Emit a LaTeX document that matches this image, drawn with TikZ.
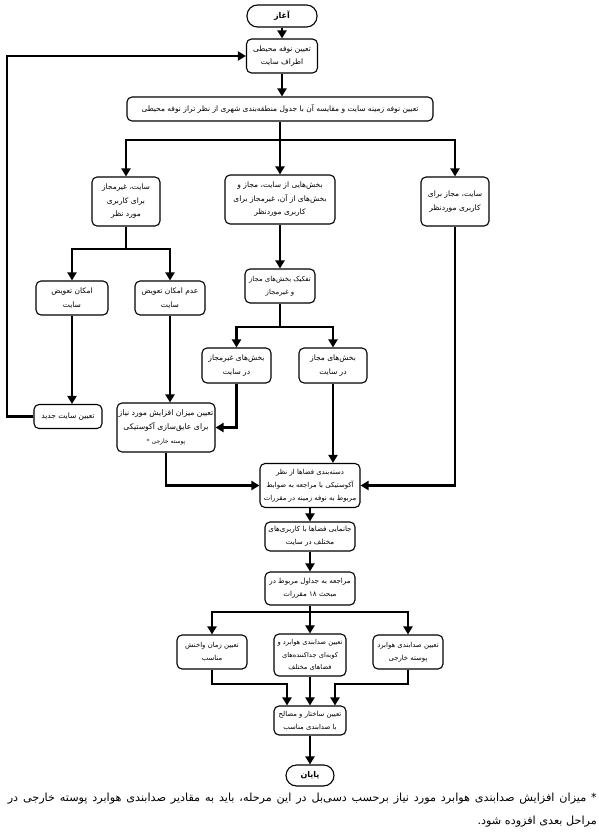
\documentclass[tikz,border=0pt]{standalone}
\usepackage{fontspec}
\usetikzlibrary{arrows.meta}
\newfontfamily\fafont[Script=Arabic]{DejaVu Sans}
\TeXXeTstate=1
\newcommand\fa[1]{\beginR#1\endR}
\begin{document}
\begin{tikzpicture}[x=1pt,y=-1pt,
  box/.style={draw, line width=1.1pt, rounded corners=5pt, fill=white, align=center,
    inner sep=1pt, font=\fafont\fontsize{7.5}{13.5}\selectfont},
  small/.style={font=\fafont\fontsize{6.9}{13}\selectfont},
  mid/.style={font=\fafont\fontsize{7.1}{13}\selectfont},
  pill/.style={box, rounded corners=10.5pt, font=\fafont\bfseries\fontsize{8}{10}\selectfont},
  conn/.style={line width=2.6pt, -{Triangle[length=8pt,width=9pt]}},
  plain/.style={line width=2.6pt},
  note/.style={anchor=east, inner sep=0pt, font=\fafont\fontsize{11.2}{13}\selectfont},
]
\useasboundingbox[fill=white] (0,0) rectangle (598,834);

% nodes
\node[pill, minimum width=70pt, minimum height=22pt] (start) at (282,16) {\fa{آغاز}};
\node[box, minimum width=71pt, minimum height=34pt] (noise) at (282,56) {\fa{تعیین نوفه محیطی}\\\fa{اطراف سایت}};
\node[box, minimum width=306pt, minimum height=24pt] (wide) at (280,109) {\fa{تعیین نوفه زمینه سایت و مقایسه آن با جدول منطقه‌بندی شهری از نظر تراز نوفه محیطی}};

\node[box, minimum width=68pt, minimum height=49pt] (L) at (126,201.5) {\fa{سایت، غیرمجاز}\\\fa{برای کاربری}\\\fa{مورد نظر}};
\node[box, minimum width=110pt, minimum height=49pt] (M) at (280,199.5) {\fa{بخش‌هایی از سایت، مجاز و}\\\fa{بخش‌های از آن، غیرمجاز برای}\\\fa{کاربری موردنظر}};
\node[box, minimum width=68pt, minimum height=49pt] (R) at (455,201.5) {\fa{سایت، مجاز برای}\\\fa{کاربری موردنظر}};

\node[box, minimum width=72pt, minimum height=34pt] (imkan) at (72,298) {\fa{امکان تعویض}\\\fa{سایت}};
\node[box, minimum width=70pt, minimum height=34pt] (adam) at (170,298) {\fa{عدم امکان تعویض}\\\fa{سایت}};
\node[box, small, minimum width=70pt, minimum height=34pt] (tafkik) at (280,286) {\fa{تفکیک بخش‌های مجاز}\\\fa{و غیرمجاز}};

\node[box, minimum width=69pt, minimum height=35pt] (ghm) at (236.5,365.5) {\fa{بخش‌های غیرمجاز}\\\fa{در سایت}};
\node[box, minimum width=68pt, minimum height=35pt] (majaz) at (333,365.5) {\fa{بخش‌های مجاز}\\\fa{در سایت}};

\node[box, minimum width=68pt, minimum height=24pt] (jadid) at (68,416.5) {\fa{تعیین سایت جدید}};
\node[box, minimum width=98pt, minimum height=49pt, font=\fafont\fontsize{7.7}{14}\selectfont] (mizan) at (166,427.5) {\fa{تعیین میزان افزایش مورد نیاز}\\\fa{برای عایق‌سازی آکوستیکی}\\\fa{\fontsize{6}{14}\selectfont پوسته خارجی *}};

\node[box, small, minimum width=100pt, minimum height=44pt] (das) at (310,485.5) {\fa{دسته‌بندی فضاها از نظر}\\\fa{آکوستیکی با مراجعه به ضوابط}\\\fa{مربوط به نوفه زمینه در مقررات}};
\node[box, mid, minimum width=90pt, minimum height=29pt] (janam) at (310,536.5) {\fa{جانمایی فضاها با کاربری‌های}\\\fa{مختلف در سایت}};
\node[box, mid, minimum width=90pt, minimum height=33pt] (moraje) at (310,588.5) {\fa{مراجعه به جداول مربوط در}\\\fa{مبحث \beginL۱۸\endL{} مقررات}};

\node[box, small, minimum width=70pt, minimum height=34pt] (zaman) at (212,652) {\fa{تعیین زمان واخنش}\\\fa{مناسب}};
\node[box, font=\fafont\fontsize{6.7}{12.5}\selectfont, minimum width=72pt, minimum height=42pt] (sedam) at (310,655) {\fa{تعیین صدابندی هوابرد و}\\\fa{کوبه‌ای جداکننده‌های}\\\fa{فضاهای مختلف}};
\node[box, small, minimum width=70pt, minimum height=34pt] (sedar) at (408,652) {\fa{تعیین صدابندی هوابرد}\\\fa{پوسته خارجی}};

\node[box, small, minimum width=72pt, minimum height=29pt] (sakht) at (310,720.5) {\fa{تعیین ساختار و مصالح}\\\fa{با صدابندی مناسب}};
\node[pill, minimum width=48pt, minimum height=21pt] (payan) at (310,775.5) {\fa{پایان}};

\node[note] (fn1) at (597,799)
  {\hbox to 589pt{\beginR* میزان افزایش صدابندی هوابرد مورد نیاز برحسب دسی‌بل در این مرحله، باید به مقادیر صدابندی هوابرد پوسته خارجی در\endR}};
\node[note] (fn2) at (597,822)
  {\fa{مراحل بعدی افزوده شود.}};

% helper coordinates
\coordinate (b1) at (280,140);
\coordinate (b2) at (126,249);
\coordinate (b3) at (280,327);
\coordinate (lp) at (7,416.5);
\coordinate (b4) at (310,612);
\coordinate (c1) at (287,684);
\coordinate (c2) at (335,684);

% connectors
\draw[conn] (start.south) -- (noise.north);
\draw[conn] (noise.south) -- (noise.south |- wide.north);
\draw[plain] (wide.south) -- (b1);
\draw[conn] (b1) -| (L.north);
\draw[conn] (b1) -- (M.north);
\draw[conn] (b1) -| (R.north);

\draw[plain] (L.south) -- (b2);
\draw[conn] (b2) -| (imkan.north);
\draw[conn] (b2) -| (adam.north);

\draw[conn] (M.south) -- (tafkik.north);
\draw[plain] (tafkik.south) -- (b3);
\draw[conn] (b3) -| (ghm.north);
\draw[conn] (b3) -| (majaz.north);

\draw[conn] (imkan.south) -- (imkan.south |- jadid.north);
\draw[conn] (adam.south) -- (adam.south |- mizan.north);
\draw[conn] (jadid.west) -- (jadid.west -| lp) |- (noise.west);
\draw[conn] (ghm.south) |- (mizan.east);

\draw[conn] (majaz.south) -- (majaz.south |- das.north);
\draw[conn] (mizan.south) |- (das.west);
\draw[conn] (R.south) |- (das.east);

\draw[conn] (das.south) -- (janam.north);
\draw[conn] (janam.south) -- (moraje.north);
\draw[plain] (moraje.south) -- (b4);
\draw[conn] (b4) -| (zaman.north);
\draw[conn] (b4) -- (sedam.north);
\draw[conn] (b4) -| (sedar.north);

\draw[conn] (zaman.south) |- (c1) -- (c1 |- sakht.north);
\draw[conn] (sedam.south) -- (sakht.north);
\draw[conn] (sedar.south) |- (c2) -- (c2 |- sakht.north);
\draw[conn] (sakht.south) -- (payan.north);
\end{tikzpicture}
\end{document}
